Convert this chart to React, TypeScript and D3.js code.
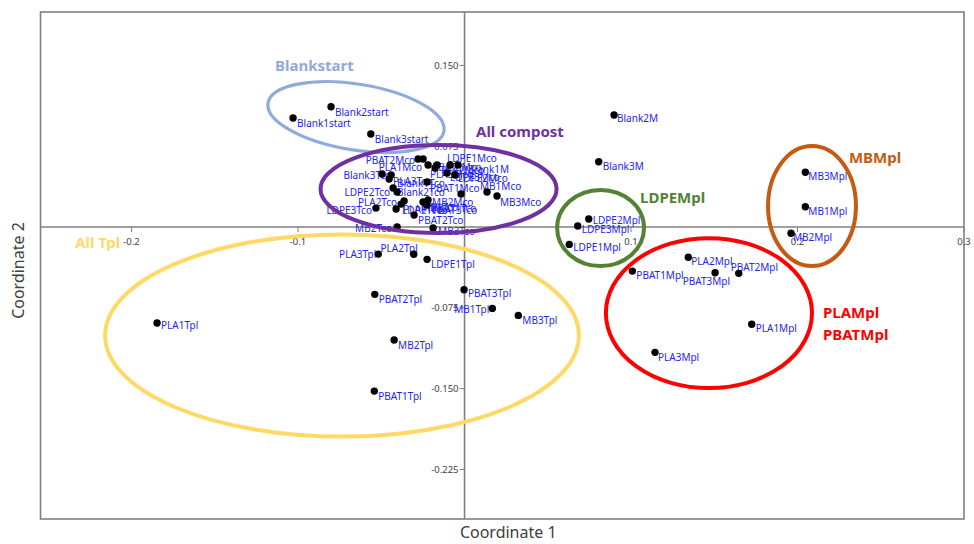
import React from "react";
import * as d3 from "d3";

const W = 974;
const H = 544;

// ---- data (PCoA coordinates) ----
const pointNames = [
  "Blank1start", "Blank2start", "Blank3start", "Blank2M", "Blank3M",
  "LDPE2Mpl", "LDPE3Mpl", "LDPE1Mpl",
  "PLA2Mpl", "PBAT1Mpl", "PBAT3Mpl", "PBAT2Mpl", "PLA1Mpl", "PLA3Mpl",
  "MB3Mpl", "MB1Mpl", "MB2Mpl",
  "PLA3Tpl", "PLA2Tpl", "LDPE1Tpl", "PBAT2Tpl", "PBAT3Tpl", "MB1Tpl", "MB3Tpl", "MB2Tpl", "PBAT1Tpl", "PLA1Tpl",
  "Blank3Tco", "Blank1Tco", "PLA3Tco", "Blank2Tco", "LDPE2Tco", "PLA2Tco", "PLA1Tco", "LDPE3Tco", "LDPE1Tco",
  "PBAT2Tco", "MB2Tco", "MB3Tco", "PBAT1Tco", "PBAT3Tco", "MB1Tco",
  "PBAT2Mco", "PLA1Mco", "PBAT3Mco", "PLA2Mco", "PLA3Mco", "LDPE1Mco", "Blank1M", "LDPE3Mco", "LDPE2Mco",
  "PBAT1Mco", "MB1Mco", "MB3Mco", "MB2Mco",
];

const coord1 = [
  -0.1030, -0.0802, -0.0563, 0.0898, 0.0806,
  0.0746, 0.0680, 0.0629,
  0.1344, 0.1008, 0.1505, 0.1647, 0.1725, 0.1144,
  0.2047, 0.2047, 0.1961,
  -0.0518, -0.0305, -0.0225, -0.0539, -0.0003, 0.0167, 0.0323, -0.0423, -0.0542, -0.1847,
  -0.0495, -0.0441, -0.0453, -0.0429, -0.0405, -0.0363, -0.0381, -0.0532, -0.0411,
  -0.0303, -0.0405, -0.0189, -0.0249, -0.0225, -0.0021,
  -0.0279, -0.0249, -0.0219, -0.0165, -0.0177, -0.0087, -0.0039, -0.0105, -0.0057,
  -0.0225, 0.0135, 0.0195, -0.0219,
];

const coord2 = [
  0.1012, 0.1117, 0.0864, 0.1040, 0.0606,
  0.0074, 0.0009, -0.0161,
  -0.0281, -0.0409, -0.0424, -0.0430, -0.0903, -0.1163,
  0.0508, 0.0188, -0.0058,
  -0.0251, -0.0253, -0.0300, -0.0625, -0.0582, -0.0755, -0.0820, -0.1049, -0.1523, -0.0891,
  0.0492, 0.0483, 0.0446, 0.0362, 0.0325, 0.0241, 0.0213, 0.0176, 0.0167,
  0.0111, 0.0000, -0.0009, 0.0232, 0.0204, 0.0306,
  0.0631, 0.0631, 0.0576, 0.0576, 0.0548, 0.0576, 0.0576, 0.0501, 0.0483,
  0.0418, 0.0325, 0.0288, 0.0251,
];

// label placement (anchor, dx, dy in px) – layout only
const labelPlacement: [string, number, number][] = [
  ["start", 4, 5], ["start", 4, 5], ["start", 4, 5], ["start", 3, 3], ["start", 4, 4],
  ["start", 4, 1], ["start", 4, 3], ["start", 4, 3],
  ["start", 3, 4], ["start", 4, 4], ["end", 15, 8], ["start", -8, -6], ["start", 4, 4], ["start", 3, 5],
  ["start", 3, 4], ["start", 3, 4], ["start", 2, 4],
  ["end", -2, 0], ["end", 4, -6], ["start", 4, 5], ["start", 4, 5], ["start", 4, 3], ["end", -3, 1], ["start", 4, 5], ["start", 4, 5], ["start", 4, 5], ["start", 4, 2],
  ["end", 9, 1], ["start", 6, 8], ["start", 4, 2], ["start", 4, 4], ["end", -7, 0], ["end", -7, 1], ["start", 2, 5], ["end", -4, 2], ["start", 6, 1],
  ["start", 4, 5], ["end", -5, 1], ["start", 5, 3], ["start", 8, 6], ["start", 5, 5], ["end", -3, 13],
  ["end", -3, 1], ["end", -1, 8], ["start", 4, 2], ["start", 4, 5], ["start", -5, 6], ["start", -3, -7], ["start", 10, 4], ["start", 3, 4], ["start", 3, 3],
  ["start", 3, 6], ["start", -7, -6], ["start", 3, 6], ["start", 4, 2],
];

const xTicks = [-0.2, -0.1, 0.1, 0.2, 0.3];
const xTickLabels = ["-0.2", "-0.1", "0.1", "0.2", "0.3"];
const yTicks = [0.15, 0.075, -0.075, -0.15, -0.225];
const yTickLabels = ["0.150", "0.075", "-0.075", "-0.150", "-0.225"];

// group ellipses (data units) and their titles
const groupNames = ["Blankstart", "All compost", "LDPEMpl", "MBMpl", "PLAMpl\nPBATMpl", "All Tpl"];
const groupColors = ["#8faadc", "#7030a0", "#548235", "#c55a11", "#ff0000", "#ffd966"];
const groupCx = [-0.0652, -0.0156, 0.0817, 0.2087, 0.1468, -0.0736];
const groupCy = [0.1021, 0.0353, -0.0009, 0.0195, -0.0799, -0.1007];
const groupRx = [0.0535, 0.0709, 0.0261, 0.0264, 0.0619, 0.1423];
const groupRy = [0.0306, 0.0409, 0.0353, 0.0557, 0.0696, 0.0938];
const groupRot = [9, 0, 0, 0, 0, 0];
const groupLabelX = [-0.1138, 0.0069, 0.1054, 0.2309, 0.2153, -0.2339];
const groupLabelY = [0.1504, 0.0891, 0.0279, 0.0650, -0.0789, -0.0139];

export default function App() {
  const left = 40.5, right = 964, top = 12, bottom = 519;
  const x = d3.scaleLinear().domain([-0.2547, 0.3]).range([left, right]);
  const y = d3.scaleLinear().domain([-0.271, 0.1996]).range([bottom, top]);
  const x0 = x(0);
  const y0 = y(0);
  const axisColor = "#808080";
  const font = "'Noto Sans', 'Open Sans', sans-serif";

  const pts = pointNames.map((n, i) => ({
    name: n,
    px: x(coord1[i]),
    py: y(coord2[i]),
    anchor: labelPlacement[i][0],
    dx: labelPlacement[i][1],
    dy: labelPlacement[i][2],
  }));

  return (
    <svg
      width={W}
      height={H}
      style={{ position: "absolute", left: 0, top: 0, background: "#fff" }}
      fontFamily={font}
    >
      <rect x={0} y={0} width={W} height={H} fill="#fff" />
      {/* plot frame */}
      <rect x={left} y={top} width={right - left} height={bottom - top} fill="none" stroke={axisColor} strokeWidth={1.6} />
      {/* zero axes */}
      <line x1={left} x2={right} y1={y0} y2={y0} stroke={axisColor} strokeWidth={1.6} />
      <line x1={x0} x2={x0} y1={top} y2={bottom} stroke={axisColor} strokeWidth={1.6} />
      {/* x ticks */}
      {xTicks.map((t, i) => (
        <g key={"xt" + i}>
          <line x1={x(t)} x2={x(t)} y1={y0} y2={y0 + 5} stroke={axisColor} strokeWidth={1} />
          <text x={x(t)} y={y0 + 14} textAnchor="middle" dominantBaseline="central" fontSize={9.5} fill="#404040">
            {xTickLabels[i]}
          </text>
        </g>
      ))}
      {/* y ticks */}
      {yTicks.map((t, i) => (
        <g key={"yt" + i}>
          <line x1={x0 - 5} x2={x0} y1={y(t)} y2={y(t)} stroke={axisColor} strokeWidth={1} />
          <text x={x0 - 6} y={y(t)} textAnchor="end" dominantBaseline="central" fontSize={9.5} fill="#404040">
            {yTickLabels[i]}
          </text>
        </g>
      ))}
      {/* point labels */}
      {pts.map((p, i) => (
        <text
          key={"l" + i}
          x={p.px + p.dx}
          y={p.py + p.dy}
          textAnchor={p.anchor as any}
          dominantBaseline="central"
          fontSize={10}
          fill="#2424f0"
        >
          {p.name}
        </text>
      ))}
      {/* points */}
      {pts.map((p, i) => (
        <circle key={"p" + i} cx={p.px} cy={p.py} r={3.7} fill="#000" />
      ))}
      {/* group ellipses */}
      {groupNames.map((g, i) => {
        const cx = x(groupCx[i]);
        const cy = y(groupCy[i]);
        const rx = x(groupRx[i]) - x(0);
        const ry = y(0) - y(groupRy[i]);
        return (
          <ellipse
            key={"e" + i}
            cx={cx}
            cy={cy}
            rx={rx}
            ry={ry}
            transform={`rotate(${groupRot[i]} ${cx} ${cy})`}
            fill="none"
            stroke={groupColors[i]}
            strokeWidth={i === 0 ? 3.2 : 4}
          />
        );
      })}
      {/* group titles */}
      {groupNames.map((g, i) => (
        <text
          key={"g" + i}
          x={x(groupLabelX[i])}
          y={y(groupLabelY[i])}
          fontSize={15}
          fontWeight={700}
          fill={groupColors[i]}
          dominantBaseline="central"
        >
          {g.split("\n").map((line, j) => (
            <tspan key={j} x={x(groupLabelX[i])} dy={j === 0 ? 0 : 22}>
              {line}
            </tspan>
          ))}
        </text>
      ))}
      {/* axis titles */}
      <text x={(left + right) / 2 + 6} y={532} textAnchor="middle" dominantBaseline="central" fontSize={16} fill="#404040">
        Coordinate 1
      </text>
      <text
        transform={`translate(18, ${(top + bottom) / 2 + 5}) rotate(-90)`}
        textAnchor="middle"
        dominantBaseline="central"
        fontSize={16}
        fill="#404040"
      >
        Coordinate 2
      </text>
    </svg>
  );
}
